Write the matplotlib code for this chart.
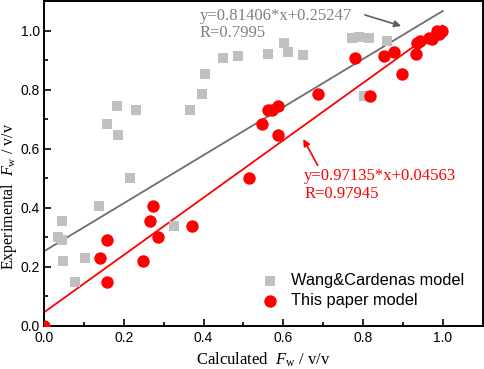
import matplotlib
matplotlib.use("Agg")
import matplotlib.pyplot as plt
import numpy as np

# Wang&Cardenas model (calculated, experimental)
wang_x = [0.036, 0.045, 0.044, 0.047, 0.078, 0.103, 0.138, 0.215, 0.325,
          0.157, 0.183, 0.186, 0.230, 0.365, 0.396, 0.404, 0.450, 0.487,
          0.561, 0.601, 0.612, 0.650, 0.773, 0.790, 0.815, 0.861, 0.802]
wang_y = [0.301, 0.290, 0.354, 0.219, 0.147, 0.230, 0.406, 0.500, 0.337,
          0.684, 0.743, 0.645, 0.732, 0.730, 0.786, 0.852, 0.906, 0.913,
          0.921, 0.957, 0.927, 0.918, 0.975, 0.977, 0.974, 0.966, 0.780]

# This paper model
ours_x = [0.000, 0.140, 0.158, 0.158, 0.247, 0.267, 0.273, 0.286, 0.372,
          0.513, 0.547, 0.561, 0.573, 0.588, 0.586, 0.686, 0.779, 0.817,
          0.852, 0.877, 0.898, 0.932, 0.936, 0.944, 0.965, 0.973, 0.990,
          0.986, 0.998]
ours_y = [0.000, 0.230, 0.290, 0.147, 0.219, 0.355, 0.406, 0.301, 0.337,
          0.500, 0.684, 0.732, 0.730, 0.743, 0.645, 0.786, 0.906, 0.780,
          0.913, 0.927, 0.852, 0.921, 0.957, 0.966, 0.975, 0.972, 0.989,
          1.000, 1.000]

wang_fit = (0.81406, 0.25247)
ours_fit = (0.97135, 0.04563)

plt.rcParams["mathtext.fontset"] = "custom"
plt.rcParams["mathtext.rm"] = "Liberation Serif"
plt.rcParams["mathtext.it"] = "Liberation Serif:italic"

fig = plt.figure(figsize=(4.84, 3.69), dpi=100)
ax = fig.add_axes([0.091, 0.117, 0.906, 0.88])

xl = np.array([0.0, 1.0])
ax.plot(xl, wang_fit[0] * xl + wang_fit[1], color="#6e6e6e", lw=1.3, zorder=2)
ax.plot(xl, ours_fit[0] * xl + ours_fit[1], color="#ff0000", lw=1.3, zorder=2)

ax.scatter(wang_x, wang_y, marker="s", s=62, color="#c0c0c0", lw=0,
           label="Wang&Cardenas model", zorder=3, clip_on=False)
ax.scatter(ours_x, ours_y, marker="o", s=80, color="#ff0000", lw=0,
           label="This paper model", zorder=4, clip_on=True)

ax.set_xlim(0, 1.1)
ax.set_ylim(0, 1.1)
ax.set_xticks([0.0, 0.2, 0.4, 0.6, 0.8, 1.0])
ax.set_yticks([0.0, 0.2, 0.4, 0.6, 0.8, 1.0])
ax.set_xticks(np.arange(0.1, 1.1, 0.2), minor=True)
ax.set_yticks(np.arange(0.1, 1.1, 0.2), minor=True)
ax.tick_params(which="both", direction="in", width=1.2, labelsize=10,
               labelfontfamily="Liberation Sans", pad=4)
ax.tick_params(axis="y", pad=3)
ax.tick_params(which="major", length=5)
ax.tick_params(which="minor", length=3)
for sp in ax.spines.values():
    sp.set_linewidth(1.4)

ax.set_xlabel(r"Calculated  $\mathit{F}_{\mathrm{w}}$ / v/v",
              family="Liberation Serif", size=12, labelpad=4)
ax.set_ylabel(r"Experimental  $\mathit{F}_{\mathrm{w}}$ / v/v",
              family="Liberation Serif", size=11.5)
ax.yaxis.set_label_coords(-0.058, 0.4)

ax.text(0.39, 1.078, "y=0.81406*x+0.25247\nR=0.7995", color="#808080",
        family="Liberation Serif", fontsize=12, va="top", ha="left",
        linespacing=1.15)
ax.annotate("", xy=(0.9025, 1.013), xytext=(0.798, 1.056),
            arrowprops=dict(arrowstyle="-|>", color="#606060", lw=1.2,
                            mutation_scale=10))

ax.text(0.6525, 0.533, "y=0.97135*x+0.04563\nR=0.97945", color="#ff0000",
        family="Liberation Serif", fontsize=12, va="top", ha="left",
        linespacing=1.1)
ax.annotate("", xy=(0.647, 0.641), xytext=(0.69, 0.535),
            arrowprops=dict(arrowstyle="-|>", color="#ff0000", lw=1.2,
                            mutation_scale=10))

ax.legend(loc="lower right", frameon=False, prop={"family": "Liberation Sans",
          "size": 11.8}, handletextpad=0.3, labelspacing=0.28,
          borderaxespad=0.3, bbox_to_anchor=(0.985, 0.02))

fig.savefig("out.png", dpi=100)
